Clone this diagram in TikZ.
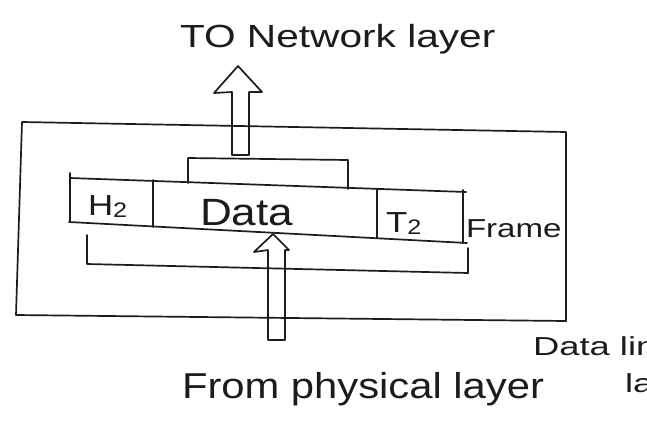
\documentclass[tikz,border=0pt]{standalone}
\usepackage{fontspec}
\setmainfont{Liberation Sans}
\definecolor{inkc}{HTML}{1C1C1C}
\begin{document}
\begin{tikzpicture}[x=1pt,y=-1pt,
  ink/.style={draw=inkc, line width=1.7pt, line join=round, line cap=round},
  lbl/.style={inner sep=0pt, outer sep=0pt, text=inkc, anchor=base west}]
  % canvas
  \useasboundingbox (0,0) rectangle (647,437);
  \fill[white] (0,0) rectangle (647,437);
  \clip (0,0) rectangle (647,437);

  % outer box of the data link layer
  \draw[ink] (22,122) -- (566,132) -- (566,321) -- (16,315) -- cycle;

  % frame row: H2 | Data | T2
  \coordinate (ftl) at (70,178);
  \coordinate (ftr) at (466,192);
  \coordinate (fbl) at (69,222);
  \coordinate (fbr) at (467,243);
  \draw[ink] (ftl) -- (ftr);
  \draw[ink] (fbl) -- (fbr);
  \draw[ink] (70,173) -- (70,222);
  \draw[ink] (153,180) -- (153,227);
  \draw[ink] (377,189) -- (377,238);
  \draw[ink] (463,190) -- (463,243);

  % bracket over the data field
  \draw[ink] (188,183) -- (188,158) -- (348,160) -- (348,189);
  % bracket under the whole frame
  \draw[ink] (87,235) -- (87,264) -- (468,273) -- (468,248);

  % block arrow up to the network layer
  \draw[ink] (232,155) -- (232,92) -- (214,93) -- (238,66) -- (262,92)
             -- (249,92) -- (249,155) -- cycle;
  % block arrow up from the physical layer
  \draw[ink] (268,340) -- (268,250) -- (254,252) -- (273,234) -- (289,250)
             -- (285,250) -- (285,340) -- cycle;

  % labels
  \node[lbl] (net) at (180,47)
    {\scalebox{1.27}[1]{\fontsize{32}{36}\selectfont TO Network layer}};
  \node[lbl] (phy) at (182,398)
    {\scalebox{1.16}[1]{\fontsize{36}{40}\selectfont From physical layer}};
  \node[lbl] (hdr) at (88,215)
    {\scalebox{1.2}[1]{\fontsize{29}{32}\selectfont H\raisebox{-2pt}{\fontsize{21}{22}\selectfont 2}}};
  \node[lbl] (dat) at (200,225)
    {\scalebox{1.16}[1]{\fontsize{38}{40}\selectfont Data}};
  \node[lbl] (trl) at (386,232)
    {\scalebox{1.2}[1]{\fontsize{29}{32}\selectfont T\raisebox{-2pt}{\fontsize{21}{22}\selectfont 2}}};
  \node[lbl] (frm) at (466,237)
    {\scalebox{1.27}[1]{\fontsize{26}{30}\selectfont Frame}};
  % layer name, running past the right edge of the sheet
  \node[lbl] (dll) at (533,355)
    {\scalebox{1.4}[1]{\fontsize{26}{30}\selectfont Data link}};
  \node[lbl] (dll2) at (625,392)
    {\scalebox{1.4}[1]{\fontsize{26}{30}\selectfont layer}};
\end{tikzpicture}
\end{document}
